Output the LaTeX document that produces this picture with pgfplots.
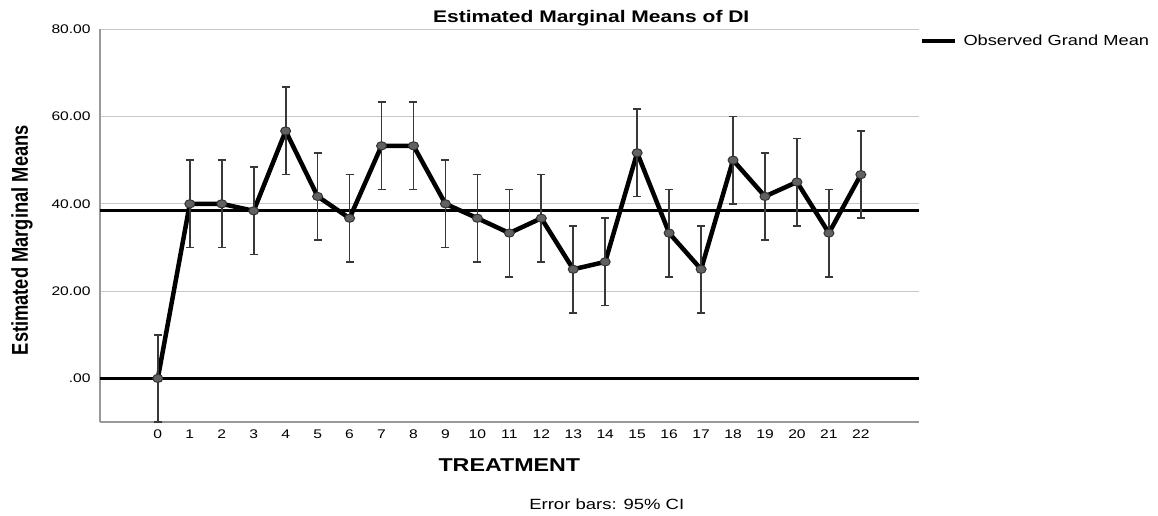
\documentclass[border=0pt]{standalone}
\usepackage{fontspec}
\setmainfont{Liberation Sans}
\usepackage{pgfplots}
\usepackage{pgfplotstable}
\pgfplotsset{compat=1.18}
\pgfplotstableread{
x y e
0 0 10
1 40 10
2 40 10
3 38.4 10
4 56.7 10
5 41.7 10
6 36.7 10
7 53.3 10
8 53.3 10
9 40 10
10 36.7 10
11 33.3 10
12 36.7 10
13 25 10
14 26.7 10
15 51.7 10
16 33.3 10
17 25 10
18 50 10
19 41.7 10
20 45 10
21 33.3 10
22 46.7 10
}\means
\begin{document}
\begin{tikzpicture}
\useasboundingbox (0,0) rectangle (1158bp,516bp);
\begin{axis}[
  at={(100bp,94bp)}, anchor=south west,
  scale only axis, width=818.7bp, height=392.7bp,
  xmin=-1.81, xmax=23.81, ymin=-10, ymax=80,
  clip=false,
  axis x line*=bottom, axis y line*=left,
  axis line style={-, draw=black!40, line width=1.1bp},
  xtick={0,...,22},
  ytick={0,20,40,60,80},
  yticklabels={.00,20.00,40.00,60.00,80.00},
  /pgf/number format/assume math mode=true,
  major tick length=0pt,
  ymajorgrids, grid style={draw=black!22, line width=1.1bp},
  xticklabel style={font=\fontsize{12.5bp}{15bp}\selectfont, xscale=1.25, inner sep=0pt, anchor=north, yshift=-8bp},
  yticklabel style={font=\fontsize{12.5bp}{15bp}\selectfont, xscale=1.25, inner sep=0pt, anchor=east, xshift=-7.3bp},
  title={\scalebox{1.25}[1]{Estimated Marginal Means of DI}},
  title style={at={(0.6,1)}, anchor=base, yshift=0.8bp, inner sep=0pt, font=\bfseries\fontsize{16.8bp}{20bp}\selectfont},
  xlabel={\scalebox{1.25}[1]{TREATMENT}},
  xlabel style={at={(0.5,0)}, anchor=base, yshift=-49.7bp, inner sep=0pt, font=\bfseries\fontsize{18.6bp}{22bp}\selectfont},
  ylabel={\scalebox{1}[1.25]{Estimated Marginal Means}},
  ylabel style={at={(-0.088,0.463)}, anchor=base, inner sep=0pt, font=\bfseries\fontsize{18.3bp}{22bp}\selectfont},
  legend style={at={(1,1)}, anchor=north west, xshift=1.3bp, yshift=-5.7bp, draw=none, fill=none, inner sep=0pt, outer sep=0pt, nodes={inner sep=0pt}, font=\fontsize{14.6bp}{17bp}\selectfont},
  legend image code/.code={\draw[line width=3.5bp, black] (0bp,0bp) -- (33bp,0bp); \path (40bp,0bp);},
]
\addplot[black, line width=3.5bp, forget plot] coordinates {(-1.81,0) (23.81,0)};
\addplot[black, line width=3.5bp] coordinates {(-1.81,38.48) (23.81,38.48)};
\addlegendentry{\scalebox{1.25}[1]{Observed Grand Mean}}
\addplot[forget plot, black, line width=4.5bp, line join=round, mark=*, mark size=4.1bp,
  mark options={fill=black!62, draw=black!80, line width=1bp, xscale=1.22},
  error bars/.cd, y dir=both, y explicit,
  error bar style={line width=1.7bp, black!78},
  error mark options={rotate=90, mark size=4bp, line width=1.7bp, black!78}]
  table[x=x, y=y, y error=e] {\means};
\node[anchor=base, inner sep=0pt, font=\fontsize{14.8bp}{17bp}\selectfont, yshift=-87.3bp] at (axis description cs:0.619,0) {\scalebox{1.25}[1]{Error bars: 95\% CI}};
\end{axis}
\end{tikzpicture}
\end{document}
